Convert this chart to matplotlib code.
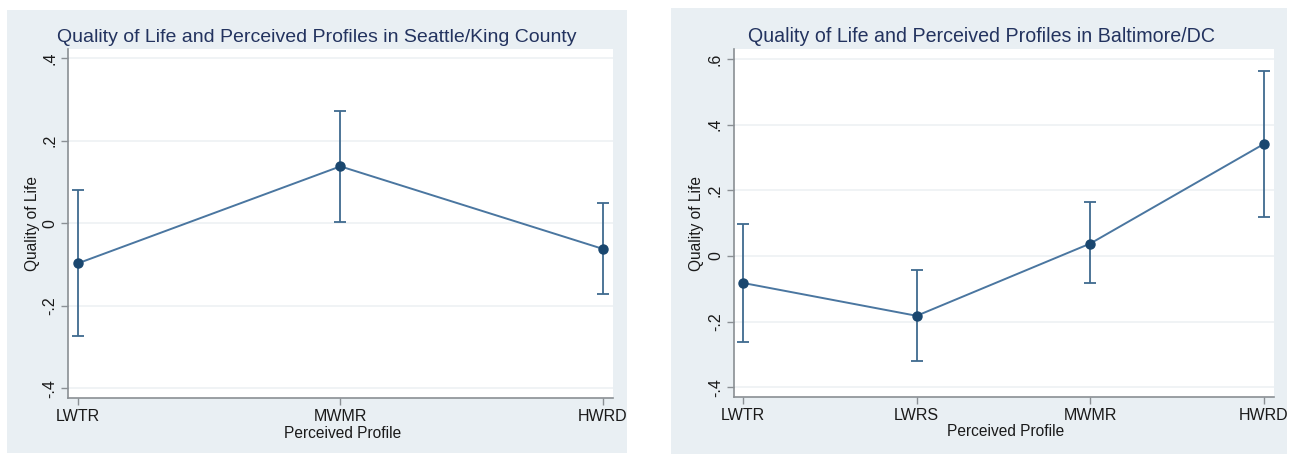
import matplotlib
matplotlib.use("Agg")
import matplotlib.pyplot as plt
from matplotlib.patches import Rectangle

plt.rcParams['font.family'] = ['Liberation Sans', 'DejaVu Sans']

# Seattle/King County
sea_profiles = ["LWTR", "MWMR", "HWRD"]
sea_mean = [-0.097, 0.138, -0.062]
sea_low = [-0.274, 0.004, -0.172]
sea_high = [0.080, 0.272, 0.050]
sea_yticks = [-0.4, -0.2, 0.0, 0.2, 0.4]
sea_yticklabels = ["-.4", "-.2", "0", ".2", ".4"]

# Baltimore/DC
bal_profiles = ["LWTR", "LWRS", "MWMR", "HWRD"]
bal_mean = [-0.082, -0.182, 0.038, 0.341]
bal_low = [-0.261, -0.319, -0.083, 0.119]
bal_high = [0.097, -0.044, 0.163, 0.563]
bal_yticks = [-0.4, -0.2, 0.0, 0.2, 0.4, 0.6]
bal_yticklabels = ["-.4", "-.2", "0", ".2", ".4", ".6"]

W, H = 1298, 454
BG = "#e9eff3"
NAVY = "#1a476f"
TITLE = "#23335f"
LINE = "#4a76a0"
BAR = "#3f6a8f"
GRID = "#edf1f4"
AXIS = "#8a8f94"
TXT = "#1a1a1a"

fig = plt.figure(figsize=(W / 100, H / 100), dpi=100)
fig.patch.set_facecolor("white")


def px_rect(x0, y0, x1, y1):
    return [x0 / W, 1 - y1 / H, (x1 - x0) / W, (y1 - y0) / H]


def panel(bg_box, ax_box, title, title_xy, title_size, ylab_x, xlab_y,
          profiles, mean, low, high, yticks, yticklabels, ylim, xlim):
    bx0, by0, bx1, by1 = bg_box
    fig.patches.append(Rectangle((bx0 / W, 1 - by1 / H), (bx1 - bx0) / W,
                                 (by1 - by0) / H, transform=fig.transFigure,
                                 facecolor=BG, edgecolor="none", zorder=-10))
    ax = fig.add_axes(px_rect(*ax_box))
    ax.set_zorder(1)
    ax.set_facecolor("white")
    pos = list(range(1, len(profiles) + 1))
    yerr = [[m - lo for m, lo in zip(mean, low)],
            [hi - m for m, hi in zip(mean, high)]]
    ax.errorbar(pos, mean, yerr=yerr, fmt="none", ecolor=BAR,
                elinewidth=1.3, capsize=4, capthick=1.3, zorder=3)
    ax.plot(pos, mean, color=LINE, lw=1.4, zorder=4)
    ax.plot(pos, mean, "o", color=NAVY, ms=6.5, zorder=5)
    ax.set_xlim(*xlim)
    ax.set_ylim(*ylim)
    ax.set_xticks(pos)
    ax.set_xticklabels(profiles, fontsize=11.5, color=TXT)
    ax.set_yticks(yticks)
    ax.set_yticklabels(yticklabels, fontsize=11.5, color=TXT,
                       rotation=90, va="center")
    ax.grid(axis="y", color=GRID, lw=1.2, zorder=0)
    ax.set_axisbelow(True)
    for s in ("top", "right"):
        ax.spines[s].set_visible(False)
    for s in ("left", "bottom"):
        ax.spines[s].set_color(AXIS)
        ax.spines[s].set_linewidth(1.2)
    ax.tick_params(axis="both", color=AXIS, length=5, width=1, pad=3)
    fig.text(title_xy[0] / W, 1 - title_xy[1] / H, title, ha="center",
             va="center", fontsize=title_size, color=TITLE)
    fig.text(ylab_x / W, 1 - (ax_box[1] + ax_box[3]) / 2 / H,
             "Quality of Life", rotation=90, ha="center", va="center",
             fontsize=11.2, color=TXT)
    fig.text(((ax_box[0] + ax_box[2]) / 2 + 2) / W, 1 - xlab_y / H,
             "Perceived Profile", ha="center", va="center",
             fontsize=11.2, color=TXT)
    return ax


panel((7, 10, 627, 453), (68.3, 49.3, 613.3, 398),
      "Quality of Life and Perceived Profiles in Seattle/King County",
      (317, 37), 14.0, 33, 433,
      sea_profiles, sea_mean, sea_low, sea_high, sea_yticks, sea_yticklabels,
      (-0.424, 0.422), (0.962, 3.041))

panel((671, 8, 1287, 454), (734, 49, 1274, 397.3),
      "Quality of Life and Perceived Profiles in Baltimore/DC",
      (981, 36), 14.1, 696, 432,
      bal_profiles, bal_mean, bal_low, bal_high, bal_yticks, bal_yticklabels,
      (-0.43, 0.63), (0.948, 4.058))

fig.savefig("out.png", dpi=100, facecolor="white")
